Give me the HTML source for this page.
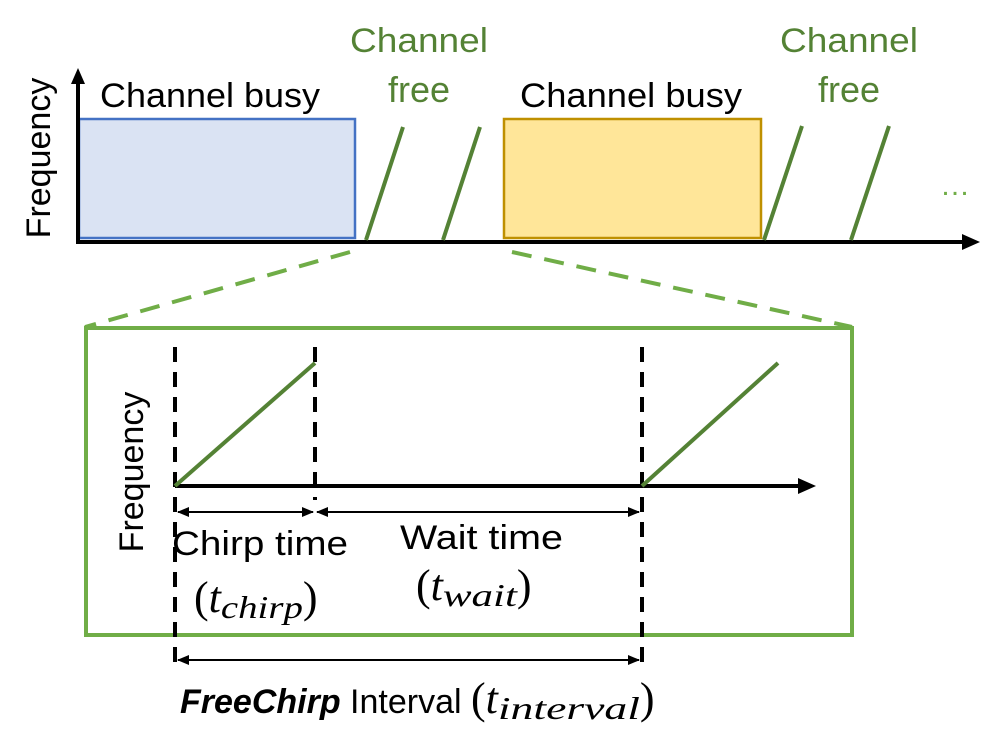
<!DOCTYPE html>
<html><head><meta charset="utf-8"><style>
html,body{margin:0;padding:0;background:#fff;}
svg{display:block;}
text{font-family:"Liberation Sans",sans-serif;}
.m{font-family:"Liberation Serif",serif;font-style:italic;}
</style></head><body>
<svg width="997" height="754" viewBox="0 0 997 754" xmlns="http://www.w3.org/2000/svg">
<defs>
<marker id="as" markerWidth="12" markerHeight="12" refX="11" refY="6" orient="auto-start-reverse" markerUnits="userSpaceOnUse"><path d="M0,1 L12,6 L0,11 z" fill="#000"/></marker>
</defs>
<rect x="79" y="119" width="276" height="119" fill="#dae3f3" stroke="#4472c4" stroke-width="2.5"/>
<rect x="504" y="119" width="257" height="119" fill="#ffe699" stroke="#bf9000" stroke-width="2.5"/>
<line x1="78" y1="243" x2="78" y2="80" stroke="#000" stroke-width="4"/>
<path d="M71,84 L78,68 L85,84 z" fill="#000"/>
<line x1="76" y1="242" x2="965" y2="242" stroke="#000" stroke-width="4"/>
<path d="M962,234 L980,242 L962,250 z" fill="#000"/>
<g stroke="#548235" stroke-width="4">
<line x1="366" y1="240" x2="403" y2="127"/>
<line x1="443" y1="240" x2="480" y2="127"/>
<line x1="764" y1="240" x2="802" y2="126"/>
<line x1="851" y1="240" x2="889" y2="126"/>
</g>
<text x="100" y="107" font-size="34" fill="#000" textLength="220" lengthAdjust="spacingAndGlyphs">Channel busy</text>
<text x="520" y="107" font-size="34" fill="#000" textLength="222" lengthAdjust="spacingAndGlyphs">Channel busy</text>
<text x="350" y="52" font-size="34" fill="#548235" textLength="138" lengthAdjust="spacingAndGlyphs">Channel</text>
<text x="419" y="102" font-size="36" fill="#548235" text-anchor="middle">free</text>
<text x="780" y="52" font-size="34" fill="#548235" textLength="138" lengthAdjust="spacingAndGlyphs">Channel</text>
<text x="849" y="102" font-size="36" fill="#548235" text-anchor="middle">free</text>
<text x="955" y="195" font-size="30" fill="#70ad47" text-anchor="middle">…</text>
<text transform="translate(50,158) rotate(-90)" font-size="34" text-anchor="middle">Frequency</text>
<g stroke="#70ad47" stroke-width="4" stroke-dasharray="20 13">
<line x1="350" y1="252" x2="85" y2="327"/>
<line x1="512" y1="252" x2="852" y2="327"/>
</g>
<rect x="86" y="328" width="766" height="307" fill="none" stroke="#70ad47" stroke-width="4"/>
<g stroke="#000" stroke-width="4" stroke-dasharray="15 10">
<line x1="175" y1="347" x2="175" y2="667"/>
<line x1="315" y1="347" x2="315" y2="500"/>
<line x1="642" y1="347" x2="642" y2="667"/>
</g>
<line x1="175" y1="486" x2="802" y2="486" stroke="#000" stroke-width="4"/>
<path d="M798,478 L816,486 L798,494 z" fill="#000"/>
<g stroke="#548235" stroke-width="4">
<line x1="175" y1="486" x2="315" y2="363"/>
<line x1="642" y1="486" x2="778" y2="363"/>
</g>
<text transform="translate(143,472) rotate(-90)" font-size="34" text-anchor="middle">Frequency</text>
<g stroke="#000" stroke-width="2">
<line x1="178" y1="512" x2="313" y2="512" marker-start="url(#as)" marker-end="url(#as)"/>
<line x1="317" y1="512" x2="639" y2="512" marker-start="url(#as)" marker-end="url(#as)"/>
<line x1="178" y1="660" x2="639" y2="660" marker-start="url(#as)" marker-end="url(#as)"/>
</g>
<text x="172" y="555" font-size="34" textLength="176" lengthAdjust="spacingAndGlyphs">Chirp time</text>
<text x="400" y="549" font-size="34" textLength="163" lengthAdjust="spacingAndGlyphs">Wait time</text>
<text x="194" y="612" font-size="44" class="m"><tspan font-style="normal">(</tspan>t<tspan font-size="32" dy="6" textLength="82" lengthAdjust="spacingAndGlyphs">chirp</tspan><tspan font-style="normal" dy="-6">)</tspan></text>
<text x="416" y="600" font-size="44" class="m"><tspan font-style="normal">(</tspan>t<tspan font-size="32" dy="6" textLength="74" lengthAdjust="spacingAndGlyphs">wait</tspan><tspan font-style="normal" dy="-6">)</tspan></text>
<text x="180" y="713" font-size="34"><tspan font-weight="bold" font-style="italic">FreeChirp</tspan> Interval <tspan font-family="Liberation Serif,serif" font-size="44">(</tspan><tspan font-family="Liberation Serif,serif" font-style="italic" font-size="44">t</tspan><tspan font-family="Liberation Serif,serif" font-style="italic" font-size="32" dy="6" textLength="142" lengthAdjust="spacingAndGlyphs">interval</tspan><tspan font-family="Liberation Serif,serif" font-size="44" dy="-6">)</tspan></text>
</svg>
</body></html>
